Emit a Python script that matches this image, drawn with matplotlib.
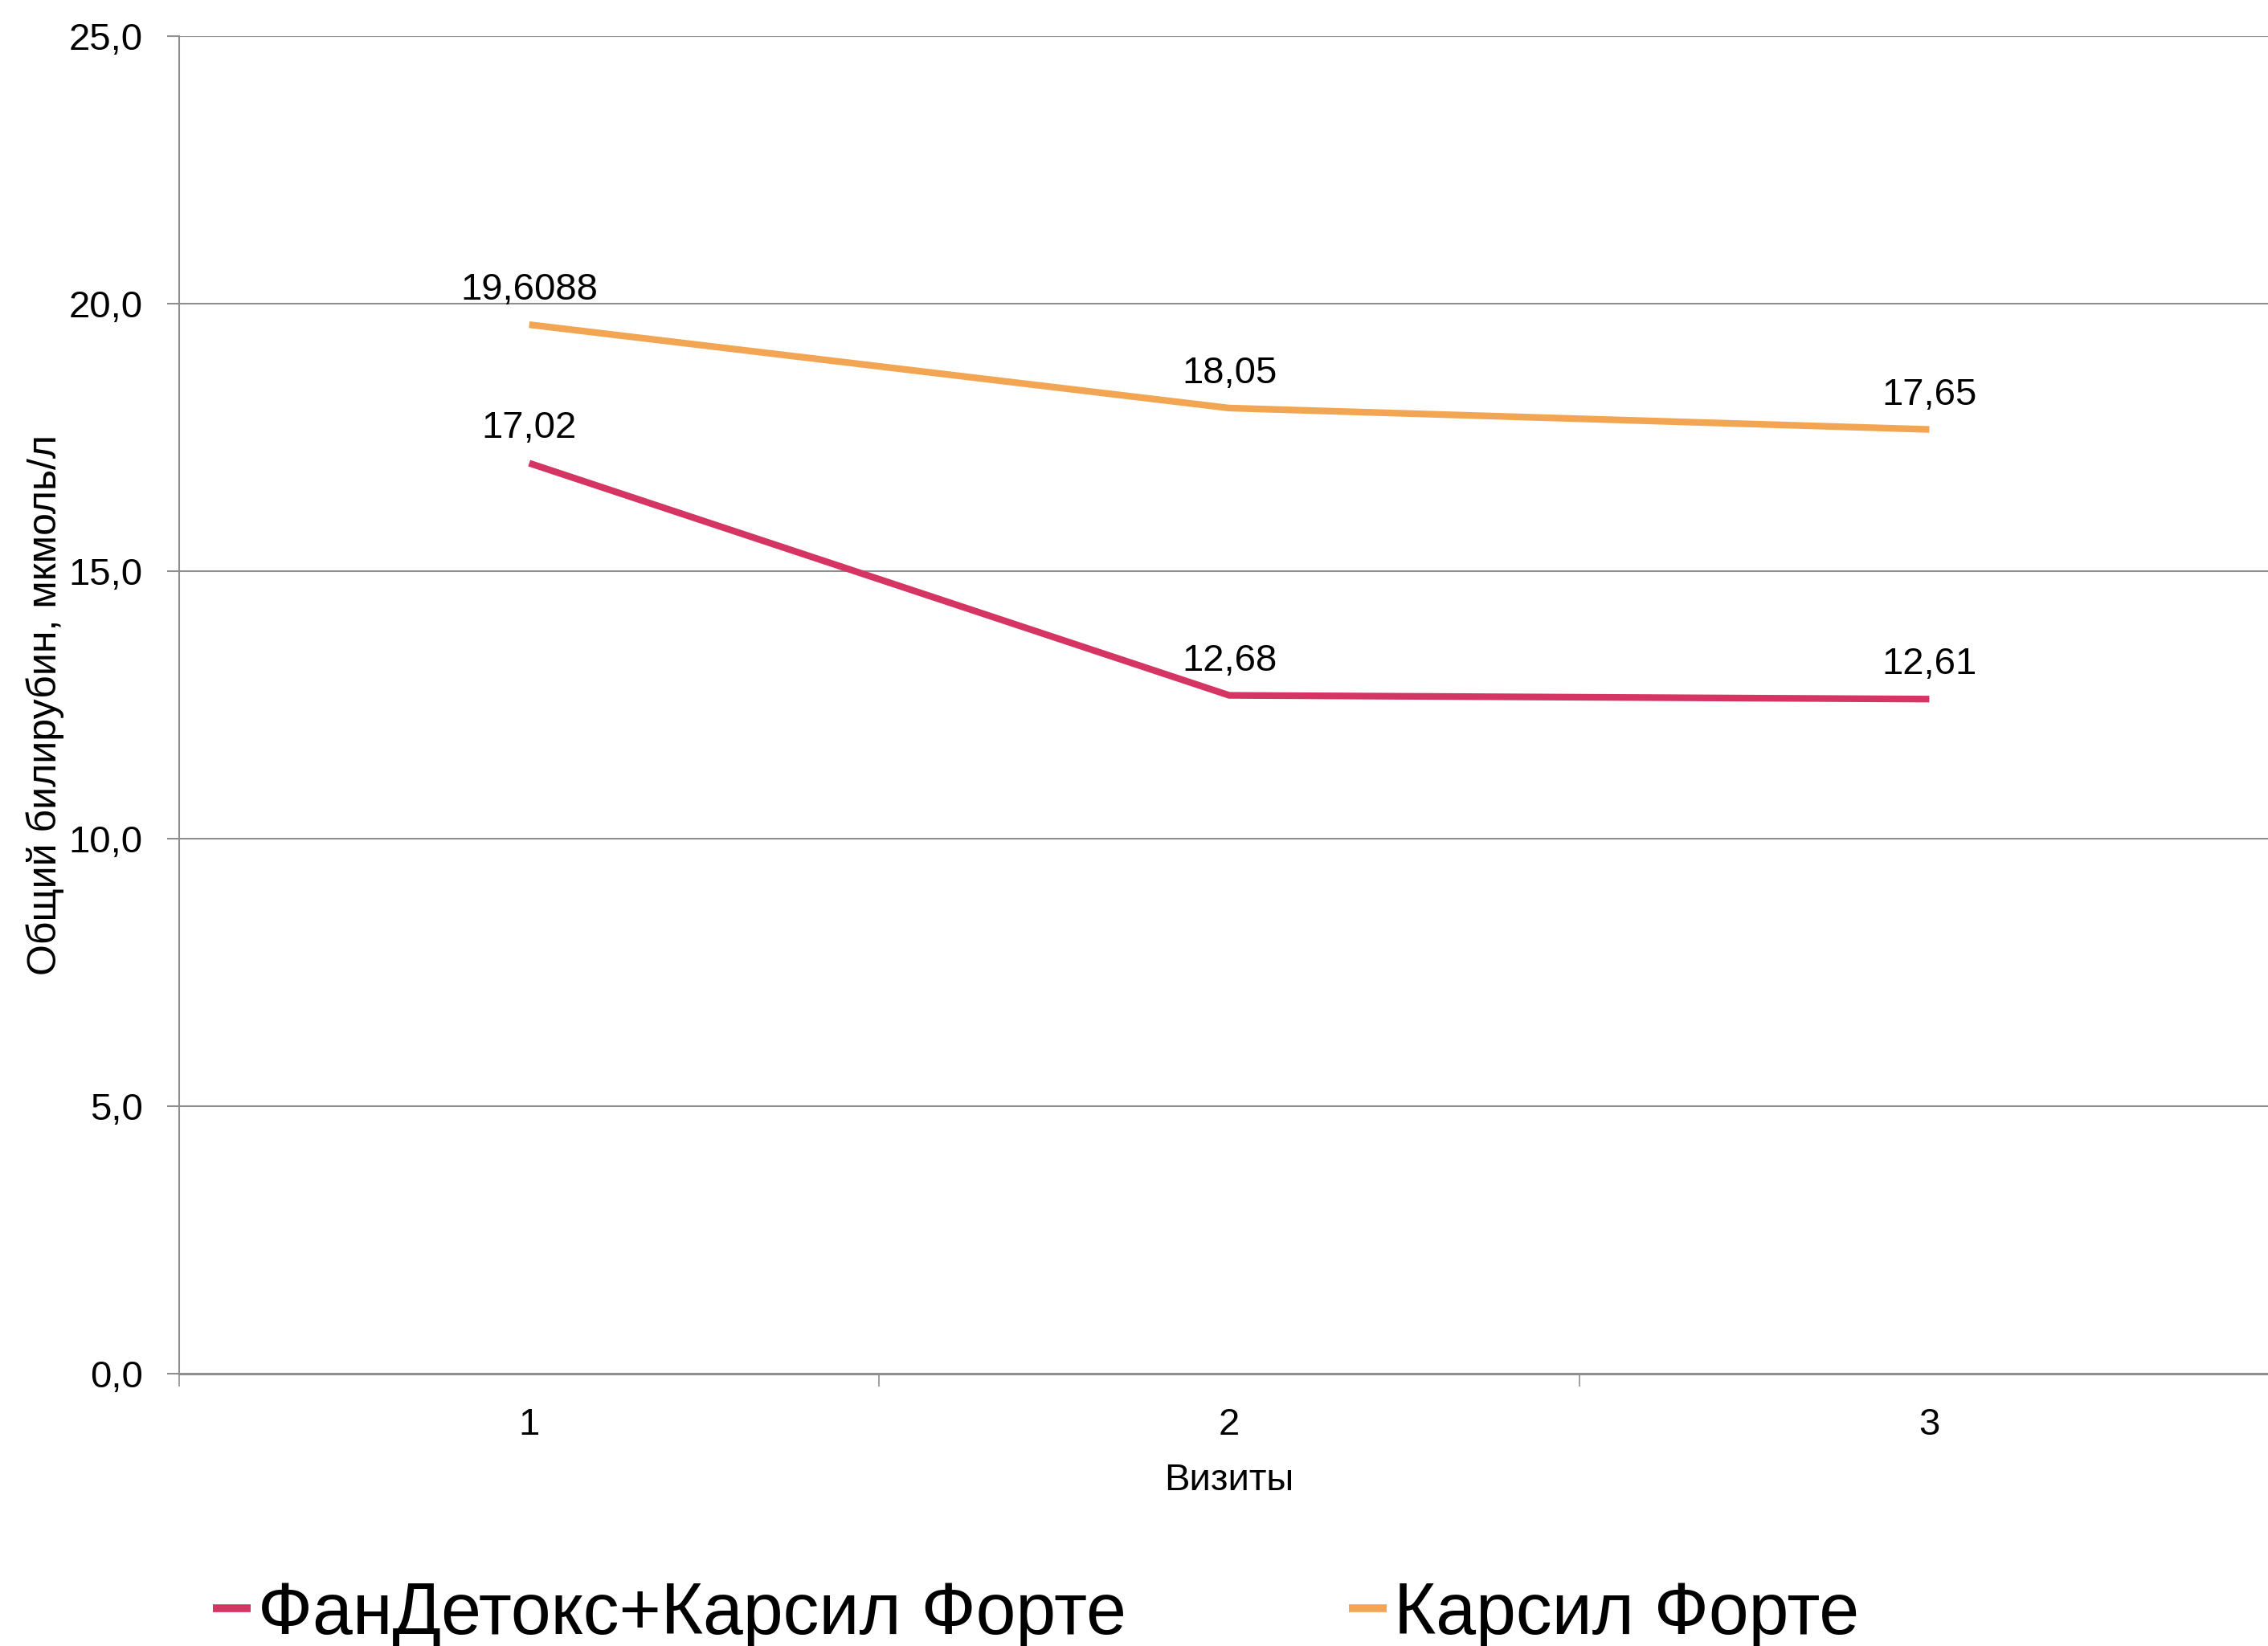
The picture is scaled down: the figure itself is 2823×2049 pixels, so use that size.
import matplotlib.pyplot as plt
from matplotlib.ticker import FixedLocator, FuncFormatter

# data
visits = [1, 2, 3]
fandetox = [17.02, 12.68, 12.61]
karsil = [19.6088, 18.05, 17.65]
fandetox_labels = ["17,02", "12,68", "12,61"]
karsil_labels = ["19,6088", "18,05", "17,65"]
series_names = ["ФанДетокс+Карсил Форте", "Карсил Форте"]
y_ticks = [0, 5, 10, 15, 20, 25]


def main() -> None:
    plt.rcParams["font.family"] = ["Liberation Sans", "DejaVu Sans"]
    c_pink = "#D43563"
    c_orange = "#F2A553"
    c_grid = "#8E8E8E"
    fs = 34

    fig = plt.figure(figsize=(28.23, 20.49), dpi=100)
    ax = fig.add_axes([0.079, 0.1654, 1.005 - 0.079, 0.978 - 0.1654])

    l1, = ax.plot(visits, fandetox, color=c_pink, linewidth=6, solid_capstyle="butt")
    l2, = ax.plot(visits, karsil, color=c_orange, linewidth=6, solid_capstyle="butt")

    for x, y, t in zip(visits, fandetox, fandetox_labels):
        ax.annotate(t, (x, y), xytext=(0, 31), textcoords="offset points",
                    ha="center", va="center", fontsize=fs)
    for x, y, t in zip(visits, karsil, karsil_labels):
        ax.annotate(t, (x, y), xytext=(0, 31), textcoords="offset points",
                    ha="center", va="center", fontsize=fs)

    # axes
    ax.set_xlim(0.5, 3.5)
    ax.set_ylim(0, 25)
    ax.yaxis.set_major_locator(FixedLocator(y_ticks))
    ax.yaxis.set_major_formatter(FuncFormatter(lambda v, p: f"{v:.1f}".replace(".", ",")))
    ax.set_xticks(visits)
    ax.set_xticklabels([str(v) for v in visits])
    ax.set_xticks([0.5, 1.5, 2.5, 3.5], minor=True)
    ax.tick_params(axis="x", which="major", length=0, pad=30, labelsize=fs)
    ax.tick_params(axis="x", which="minor", length=11.5, width=1.2, color=c_grid, direction="out")
    ax.tick_params(axis="y", which="major", length=10.5, width=1.5, color=c_grid,
                   direction="out", pad=22, labelsize=fs)
    ax.grid(axis="y", color=c_grid, linewidth=1.5)
    ax.set_axisbelow(True)
    for s in ["top", "right"]:
        ax.spines[s].set_visible(False)
    ax.spines["left"].set_color(c_grid)
    ax.spines["left"].set_linewidth(1.5)
    ax.spines["bottom"].set_color(c_grid)
    ax.spines["bottom"].set_linewidth(2.2)

    ax.set_xlabel("Визиты", fontsize=fs, labelpad=18)
    fig.text(56 / 2823, 1 - 877 / 2049, "Общий билирубин, мкмоль/л", rotation=90,
             ha="center", va="center", fontsize=36)

    leg = fig.legend([l1, l2], series_names, loc="center left",
                     bbox_to_anchor=(0.094, 0.019), ncol=2, frameon=False,
                     fontsize=64.5, handlelength=0.52, handletextpad=0.1,
                     columnspacing=3.1, borderpad=0, borderaxespad=0)
    for h in leg.legend_handles:
        h.set_linewidth(7)

    fig.savefig("out.png", dpi=100)
    plt.close(fig)


if __name__ == "__main__":
    main()
